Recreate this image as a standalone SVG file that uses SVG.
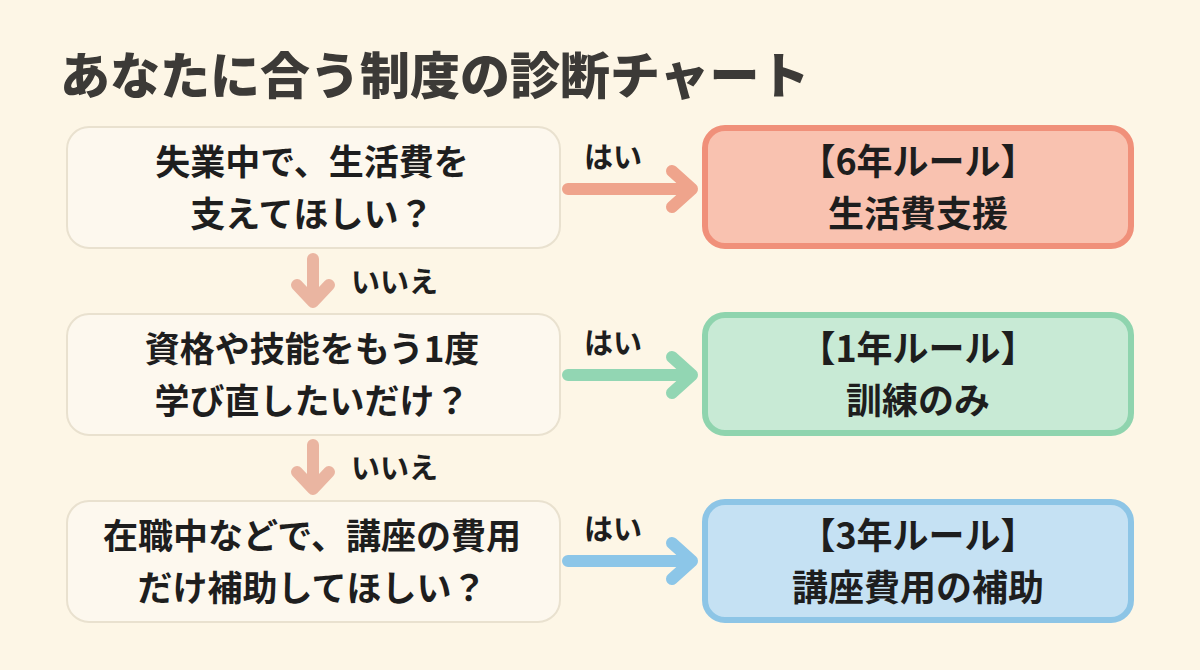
<svg xmlns="http://www.w3.org/2000/svg" width="1200" height="670" viewBox="0 0 1200 670">
<style>
.t{font-family:"Noto Sans CJK JP","Noto Sans CJK SC",sans-serif;font-weight:700;fill:#1e1e1e;text-anchor:middle}
.title{font-family:"Noto Sans CJK JP",sans-serif;font-weight:900;fill:#3c3a37;font-size:50px}
.q{fill:#fdf8ee;stroke:#e9e1cf;stroke-width:2}
.lbl{font-family:"Noto Sans CJK JP",sans-serif;font-weight:700;fill:#1e1e1e;font-size:29px}
.arr{fill:none;stroke-width:12;stroke-linecap:round;stroke-linejoin:round}
</style>
<rect width="1200" height="670" fill="#fdf6e6"/>
<text class="title" x="60" y="94">あなたに合う制度の診断チャート</text>
<g id="connectors">
<path class="arr" stroke="#efa48c" d="M568 189H690M672 171L692 189L672 207"/>
<path class="arr" stroke="#92d6b3" d="M568 375H690M672 357L692 375L672 393"/>
<path class="arr" stroke="#8cc6e8" d="M568 561H690M672 543L692 561L672 579"/>
<path class="arr" stroke="#eab5a1" d="M313 259V300M297 285L313 302L329 285"/>
<path class="arr" stroke="#eab5a1" d="M313 445V487M297 472L313 489L329 472"/>
<text class="lbl" x="584" y="168">はい</text>
<text class="lbl" x="584" y="354">はい</text>
<text class="lbl" x="584" y="540">はい</text>
<text class="lbl" x="351" y="293">いいえ</text>
<text class="lbl" x="351" y="479">いいえ</text>
</g>
<g id="q1">
<rect class="q" x="67" y="127" width="493" height="121" rx="22"/>
<text class="t" font-size="35" x="312" y="175">失業中で、生活費を</text>
<text class="t" font-size="35" x="312" y="227">支えてほしい？</text>
</g>
<g id="q2">
<rect class="q" x="67" y="314" width="493" height="121" rx="22"/>
<text class="t" font-size="35" x="312" y="362">資格や技能をもう1度</text>
<text class="t" font-size="35" x="312" y="414">学び直したいだけ？</text>
</g>
<g id="q3">
<rect class="q" x="67" y="501" width="493" height="121" rx="22"/>
<text class="t" font-size="35" x="312" y="549">在職中などで、講座の費用</text>
<text class="t" font-size="35" x="312" y="601">だけ補助してほしい？</text>
</g>
<g id="r1">
<rect x="705" y="128" width="426" height="118" rx="20" fill="#f9c2b0" stroke="#f0907a" stroke-width="6"/>
<text class="t" font-size="36" x="918" y="175">【6年ルール】</text>
<text class="t" font-size="36" x="918" y="227">生活費支援</text>
</g>
<g id="r2">
<rect x="705" y="315" width="426" height="118" rx="20" fill="#c8ead5" stroke="#8fd4ae" stroke-width="6"/>
<text class="t" font-size="36" x="918" y="362">【1年ルール】</text>
<text class="t" font-size="36" x="918" y="414">訓練のみ</text>
</g>
<g id="r3">
<rect x="705" y="502" width="426" height="118" rx="20" fill="#c5e1f3" stroke="#8dc5e6" stroke-width="6"/>
<text class="t" font-size="36" x="918" y="549">【3年ルール】</text>
<text class="t" font-size="36" x="918" y="601">講座費用の補助</text>
</g>
</svg>
